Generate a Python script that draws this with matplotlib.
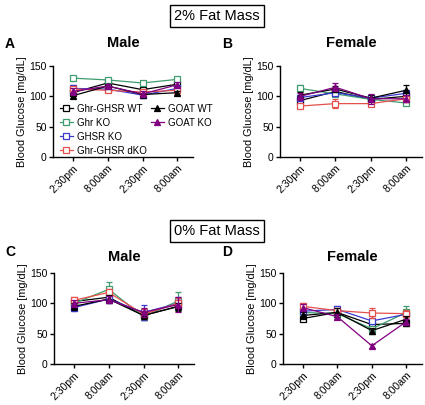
import matplotlib as mpl
mpl.use('Agg')
import matplotlib.pyplot as plt
from matplotlib.lines import Line2D

plt.rcParams['font.family'] = ['Liberation Sans', 'DejaVu Sans']

times = ["2:30pm", "8:00am", "2:30pm", "8:00am"]
groups = ["Ghr-GHSR WT", "Ghr KO", "GHSR KO", "Ghr-GHSR dKO", "GOAT WT", "GOAT KO"]
colors = ["black", "#3f9c6e", "#3a3ad0", "#e4504c", "black", "#800080"]
markers = ["s", "s", "s", "s", "^", "^"]
filled = [False, False, False, False, True, True]

# mean glucose, order as in groups
male_2 = [[106, 122, 111, 120],
          [130, 127, 122, 128],
          [113, 112, 102, 113],
          [112, 110, 107, 110],
          [101, 117, 103, 106],
          [108, 117, 104, 119]]
male_2_err = [[4, 3, 4, 4], [3, 3, 3, 3], [6, 4, 4, 5], [4, 3, 4, 4], [3, 3, 3, 3], [5, 4, 4, 5]]

female_2 = [[93, 108, 95, 100],
            [113, 104, 95, 89],
            [98, 106, 97, 105],
            [84, 88, 88, 96],
            [102, 112, 97, 110],
            [100, 115, 96, 96]]
female_2_err = [[5, 5, 5, 5], [5, 4, 5, 4], [5, 5, 6, 6], [4, 7, 4, 5], [5, 5, 6, 8], [6, 7, 8, 6]]

male_0 = [[103, 110, 80, 95],
          [100, 123, 78, 104],
          [93, 107, 85, 100],
          [105, 118, 82, 100],
          [95, 107, 80, 95],
          [100, 106, 85, 98]]
male_0_err = [[6, 6, 8, 8], [6, 12, 5, 15], [5, 6, 12, 10], [5, 6, 8, 8], [6, 6, 6, 6], [6, 6, 8, 12]]

female_0 = [[75, 85, 65, 67],
            [85, 83, 58, 85],
            [87, 90, 71, 82],
            [95, 88, 84, 83],
            [80, 85, 55, 74],
            [93, 78, 30, 70]]
female_0_err = [[4, 5, 5, 5], [5, 5, 5, 10], [5, 5, 5, 5], [5, 5, 8, 6], [5, 8, 5, 5], [6, 4, 3, 4]]

fig = plt.figure(figsize=(4.25, 4.05), dpi=100)

# box in pixels, title y, letter pos
panels = [
    ([53, 66, 193, 157], male_2, male_2_err, "Male", 43, "A", (5, 44)),
    ([280, 66, 422, 157], female_2, female_2_err, "Female", 43, "B", (222, 44)),
    ([54, 273, 194, 364], male_0, male_0_err, "Male", 257, "C", (5, 252)),
    ([283, 273, 422, 364], female_0, female_0_err, "Female", 257, "D", (222, 252)),
]

W, H = 425.0, 405.0
axes = []
for box, means, errs, title, ty, letter, lpos in panels:
    x0, y0, x1, y1 = box
    ax = fig.add_axes([x0 / W, 1 - y1 / H, (x1 - x0) / W, (y1 - y0) / H])
    for i in range(len(groups)):
        ax.errorbar(range(4), means[i], yerr=errs[i], color=colors[i], lw=0.9,
                    marker=markers[i], ms=4.2, mew=0.9,
                    mfc=colors[i] if filled[i] else "white",
                    capsize=2.5, elinewidth=0.9, capthick=0.9, zorder=2 + i)
    ax.set_ylim(0, 150)
    ax.set_yticks([0, 50, 100, 150])
    ax.set_xlim(-0.57, 3.45)
    ax.set_xticks(range(4))
    ax.set_xticklabels(times, rotation=45, ha="right", rotation_mode="anchor")
    ax.spines["top"].set_visible(False)
    ax.spines["right"].set_visible(False)
    ax.spines["left"].set_linewidth(1.0)
    ax.spines["bottom"].set_linewidth(1.0)
    ax.tick_params(labelsize=7.5, length=3, width=1.0, pad=1.5)
    ax.set_ylabel("Blood Glucose [mg/dL]", fontsize=7.8, labelpad=2)
    fig.text((x0 + x1) / 2 / W, 1 - ty / H, title, fontsize=10.5, fontweight="bold",
             ha="center", va="center")
    fig.text(lpos[0] / W, 1 - lpos[1] / H, letter, fontsize=10, fontweight="bold",
             va="center", ha="left")
    axes.append(ax)

# legend in panel A, two columns
handles = []
for i in range(len(groups)):
    handles.append(Line2D([], [], color=colors[i], lw=0.9, marker=markers[i], ms=4.2,
                          mew=0.9, mfc=colors[i] if filled[i] else "white"))
axA = axes[0]
leg1 = axA.legend(handles[:4], groups[:4], loc="upper left", bbox_to_anchor=(0.02, 0.63),
                  frameon=False, fontsize=7.0, handlelength=1.4, handletextpad=0.4,
                  labelspacing=0.42, borderaxespad=0)
axA.add_artist(leg1)
axA.legend(handles[4:], groups[4:], loc="upper left", bbox_to_anchor=(0.67, 0.63),
           frameon=False, fontsize=7.0, handlelength=1.4, handletextpad=0.4,
           labelspacing=0.42, borderaxespad=0)

box = dict(boxstyle="square,pad=0.3", fc="white", ec="black", lw=1.0)
fig.text(217 / W, 1 - 16 / H, "2% Fat Mass", fontsize=10.5, ha="center", va="center", bbox=box)
fig.text(217 / W, 1 - 231 / H, "0% Fat Mass", fontsize=10.5, ha="center", va="center", bbox=box)

plt.savefig("out.png", dpi=100)
